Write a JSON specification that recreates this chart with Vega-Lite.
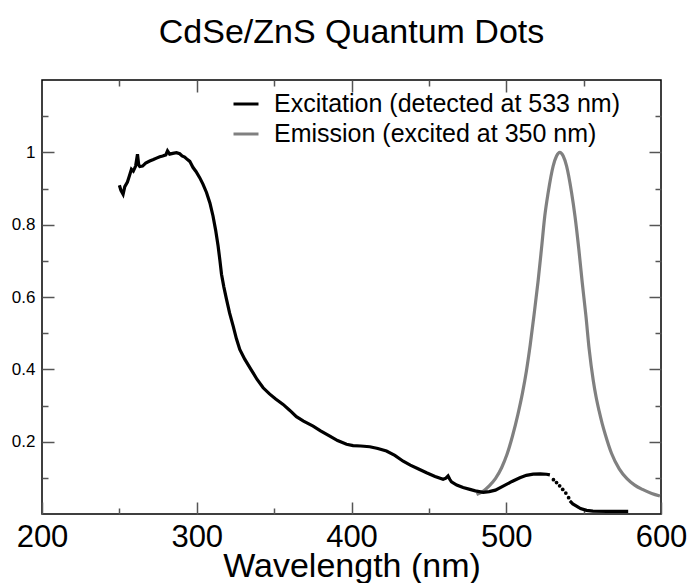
{
  "$schema": "https://vega.github.io/schema/vega-lite/v6.json",
  "autosize": "none",
  "width": 619,
  "height": 434,
  "padding": {"left": 42, "top": 80, "right": 35, "bottom": 69},
  "background": "white",
  "title": {
    "text": "CdSe/ZnS Quantum Dots",
    "font": "Liberation Sans",
    "fontSize": 34,
    "fontWeight": "normal",
    "color": "black",
    "baseline": "alphabetic",
    "offset": 2
  },
  "config": {
    "view": {"stroke": "black", "strokeWidth": 1.5},
    "axis": {
      "grid": false,
      "domain": false,
      "tickColor": "#555555",
      "tickWidth": 1.5,
      "labelFont": "Liberation Sans",
      "titleFont": "Liberation Sans",
      "labelColor": "black",
      "titleColor": "black",
      "titleFontWeight": "normal"
    },
    "legend": {
      "labelFont": "Liberation Sans",
      "labelColor": "black"
    }
  },
  "data": {
    "values": [
      {"series": "Excitation (detected at 533 nm)", "seg": "a", "wl": 250, "v": 0.909},
      {"series": "Excitation (detected at 533 nm)", "seg": "a", "wl": 251, "v": 0.895},
      {"series": "Excitation (detected at 533 nm)", "seg": "a", "wl": 252.4, "v": 0.884},
      {"series": "Excitation (detected at 533 nm)", "seg": "a", "wl": 253.5, "v": 0.905},
      {"series": "Excitation (detected at 533 nm)", "seg": "a", "wl": 255.2, "v": 0.918},
      {"series": "Excitation (detected at 533 nm)", "seg": "a", "wl": 256.5, "v": 0.935},
      {"series": "Excitation (detected at 533 nm)", "seg": "a", "wl": 257.8, "v": 0.953},
      {"series": "Excitation (detected at 533 nm)", "seg": "a", "wl": 259, "v": 0.948},
      {"series": "Excitation (detected at 533 nm)", "seg": "a", "wl": 260.5, "v": 0.962},
      {"series": "Excitation (detected at 533 nm)", "seg": "a", "wl": 261.7, "v": 0.995},
      {"series": "Excitation (detected at 533 nm)", "seg": "a", "wl": 262.5, "v": 0.965},
      {"series": "Excitation (detected at 533 nm)", "seg": "a", "wl": 263.2, "v": 0.961},
      {"series": "Excitation (detected at 533 nm)", "seg": "a", "wl": 265, "v": 0.962},
      {"series": "Excitation (detected at 533 nm)", "seg": "a", "wl": 267, "v": 0.970},
      {"series": "Excitation (detected at 533 nm)", "seg": "a", "wl": 269.6, "v": 0.976},
      {"series": "Excitation (detected at 533 nm)", "seg": "a", "wl": 272, "v": 0.980},
      {"series": "Excitation (detected at 533 nm)", "seg": "a", "wl": 274, "v": 0.984},
      {"series": "Excitation (detected at 533 nm)", "seg": "a", "wl": 276.1, "v": 0.988},
      {"series": "Excitation (detected at 533 nm)", "seg": "a", "wl": 278, "v": 0.990},
      {"series": "Excitation (detected at 533 nm)", "seg": "a", "wl": 280, "v": 0.993},
      {"series": "Excitation (detected at 533 nm)", "seg": "a", "wl": 281.1, "v": 1.004},
      {"series": "Excitation (detected at 533 nm)", "seg": "a", "wl": 282.5, "v": 0.995},
      {"series": "Excitation (detected at 533 nm)", "seg": "a", "wl": 284.5, "v": 0.997},
      {"series": "Excitation (detected at 533 nm)", "seg": "a", "wl": 286.9, "v": 0.999},
      {"series": "Excitation (detected at 533 nm)", "seg": "a", "wl": 289, "v": 0.996},
      {"series": "Excitation (detected at 533 nm)", "seg": "a", "wl": 290.5, "v": 0.990},
      {"series": "Excitation (detected at 533 nm)", "seg": "a", "wl": 292.2, "v": 0.987},
      {"series": "Excitation (detected at 533 nm)", "seg": "a", "wl": 294, "v": 0.980},
      {"series": "Excitation (detected at 533 nm)", "seg": "a", "wl": 295.5, "v": 0.975},
      {"series": "Excitation (detected at 533 nm)", "seg": "a", "wl": 297.6, "v": 0.958},
      {"series": "Excitation (detected at 533 nm)", "seg": "a", "wl": 299.5, "v": 0.947},
      {"series": "Excitation (detected at 533 nm)", "seg": "a", "wl": 301.9, "v": 0.930},
      {"series": "Excitation (detected at 533 nm)", "seg": "a", "wl": 304, "v": 0.912},
      {"series": "Excitation (detected at 533 nm)", "seg": "a", "wl": 306.3, "v": 0.889},
      {"series": "Excitation (detected at 533 nm)", "seg": "a", "wl": 308.5, "v": 0.860},
      {"series": "Excitation (detected at 533 nm)", "seg": "a", "wl": 310.5, "v": 0.824},
      {"series": "Excitation (detected at 533 nm)", "seg": "a", "wl": 312.2, "v": 0.785},
      {"series": "Excitation (detected at 533 nm)", "seg": "a", "wl": 313.8, "v": 0.741},
      {"series": "Excitation (detected at 533 nm)", "seg": "a", "wl": 315, "v": 0.700},
      {"series": "Excitation (detected at 533 nm)", "seg": "a", "wl": 316, "v": 0.663},
      {"series": "Excitation (detected at 533 nm)", "seg": "a", "wl": 317.5, "v": 0.628},
      {"series": "Excitation (detected at 533 nm)", "seg": "a", "wl": 319.2, "v": 0.594},
      {"series": "Excitation (detected at 533 nm)", "seg": "a", "wl": 321.2, "v": 0.556},
      {"series": "Excitation (detected at 533 nm)", "seg": "a", "wl": 323.5, "v": 0.520},
      {"series": "Excitation (detected at 533 nm)", "seg": "a", "wl": 325.6, "v": 0.485},
      {"series": "Excitation (detected at 533 nm)", "seg": "a", "wl": 327.8, "v": 0.455},
      {"series": "Excitation (detected at 533 nm)", "seg": "a", "wl": 331, "v": 0.428},
      {"series": "Excitation (detected at 533 nm)", "seg": "a", "wl": 335, "v": 0.400},
      {"series": "Excitation (detected at 533 nm)", "seg": "a", "wl": 339, "v": 0.372},
      {"series": "Excitation (detected at 533 nm)", "seg": "a", "wl": 342.9, "v": 0.349},
      {"series": "Excitation (detected at 533 nm)", "seg": "a", "wl": 347, "v": 0.332},
      {"series": "Excitation (detected at 533 nm)", "seg": "a", "wl": 351, "v": 0.318},
      {"series": "Excitation (detected at 533 nm)", "seg": "a", "wl": 355.8, "v": 0.303},
      {"series": "Excitation (detected at 533 nm)", "seg": "a", "wl": 360, "v": 0.287},
      {"series": "Excitation (detected at 533 nm)", "seg": "a", "wl": 364.4, "v": 0.269},
      {"series": "Excitation (detected at 533 nm)", "seg": "a", "wl": 369, "v": 0.257},
      {"series": "Excitation (detected at 533 nm)", "seg": "a", "wl": 375.2, "v": 0.243},
      {"series": "Excitation (detected at 533 nm)", "seg": "a", "wl": 380, "v": 0.230},
      {"series": "Excitation (detected at 533 nm)", "seg": "a", "wl": 386, "v": 0.215},
      {"series": "Excitation (detected at 533 nm)", "seg": "a", "wl": 391, "v": 0.203},
      {"series": "Excitation (detected at 533 nm)", "seg": "a", "wl": 396.8, "v": 0.193},
      {"series": "Excitation (detected at 533 nm)", "seg": "a", "wl": 401, "v": 0.189},
      {"series": "Excitation (detected at 533 nm)", "seg": "a", "wl": 406, "v": 0.188},
      {"series": "Excitation (detected at 533 nm)", "seg": "a", "wl": 411.8, "v": 0.186},
      {"series": "Excitation (detected at 533 nm)", "seg": "a", "wl": 417, "v": 0.181},
      {"series": "Excitation (detected at 533 nm)", "seg": "a", "wl": 422.6, "v": 0.174},
      {"series": "Excitation (detected at 533 nm)", "seg": "a", "wl": 428, "v": 0.162},
      {"series": "Excitation (detected at 533 nm)", "seg": "a", "wl": 433.4, "v": 0.146},
      {"series": "Excitation (detected at 533 nm)", "seg": "a", "wl": 438, "v": 0.135},
      {"series": "Excitation (detected at 533 nm)", "seg": "a", "wl": 443, "v": 0.125},
      {"series": "Excitation (detected at 533 nm)", "seg": "a", "wl": 448.5, "v": 0.114},
      {"series": "Excitation (detected at 533 nm)", "seg": "a", "wl": 454, "v": 0.104},
      {"series": "Excitation (detected at 533 nm)", "seg": "a", "wl": 459.2, "v": 0.096},
      {"series": "Excitation (detected at 533 nm)", "seg": "a", "wl": 461, "v": 0.099},
      {"series": "Excitation (detected at 533 nm)", "seg": "a", "wl": 462.4, "v": 0.105},
      {"series": "Excitation (detected at 533 nm)", "seg": "a", "wl": 463.5, "v": 0.096},
      {"series": "Excitation (detected at 533 nm)", "seg": "a", "wl": 464.6, "v": 0.089},
      {"series": "Excitation (detected at 533 nm)", "seg": "a", "wl": 468, "v": 0.080},
      {"series": "Excitation (detected at 533 nm)", "seg": "a", "wl": 472.1, "v": 0.073},
      {"series": "Excitation (detected at 533 nm)", "seg": "a", "wl": 476.5, "v": 0.068},
      {"series": "Excitation (detected at 533 nm)", "seg": "a", "wl": 480, "v": 0.064},
      {"series": "Excitation (detected at 533 nm)", "seg": "a", "wl": 485.1, "v": 0.060},
      {"series": "Excitation (detected at 533 nm)", "seg": "a", "wl": 489, "v": 0.062},
      {"series": "Excitation (detected at 533 nm)", "seg": "a", "wl": 493, "v": 0.066},
      {"series": "Excitation (detected at 533 nm)", "seg": "a", "wl": 498, "v": 0.077},
      {"series": "Excitation (detected at 533 nm)", "seg": "a", "wl": 503.7, "v": 0.090},
      {"series": "Excitation (detected at 533 nm)", "seg": "a", "wl": 508.8, "v": 0.100},
      {"series": "Excitation (detected at 533 nm)", "seg": "a", "wl": 513, "v": 0.107},
      {"series": "Excitation (detected at 533 nm)", "seg": "a", "wl": 517.4, "v": 0.110},
      {"series": "Excitation (detected at 533 nm)", "seg": "a", "wl": 522, "v": 0.111},
      {"series": "Excitation (detected at 533 nm)", "seg": "a", "wl": 526, "v": 0.110},
      {"series": "Excitation (detected at 533 nm)", "seg": "a", "wl": 528.2, "v": 0.108},
      {"series": "Excitation (detected at 533 nm)", "seg": "dots", "wl": 530.5, "v": 0.095},
      {"series": "Excitation (detected at 533 nm)", "seg": "dots", "wl": 532.5, "v": 0.087},
      {"series": "Excitation (detected at 533 nm)", "seg": "dots", "wl": 534.5, "v": 0.078},
      {"series": "Excitation (detected at 533 nm)", "seg": "dots", "wl": 536.5, "v": 0.068},
      {"series": "Excitation (detected at 533 nm)", "seg": "dots", "wl": 538.5, "v": 0.058},
      {"series": "Excitation (detected at 533 nm)", "seg": "dots", "wl": 540.3, "v": 0.045},
      {"series": "Excitation (detected at 533 nm)", "seg": "b", "wl": 541.1, "v": 0.036},
      {"series": "Excitation (detected at 533 nm)", "seg": "b", "wl": 543, "v": 0.028},
      {"series": "Excitation (detected at 533 nm)", "seg": "b", "wl": 545.4, "v": 0.022},
      {"series": "Excitation (detected at 533 nm)", "seg": "b", "wl": 548, "v": 0.015},
      {"series": "Excitation (detected at 533 nm)", "seg": "b", "wl": 551.9, "v": 0.010},
      {"series": "Excitation (detected at 533 nm)", "seg": "b", "wl": 556, "v": 0.008},
      {"series": "Excitation (detected at 533 nm)", "seg": "b", "wl": 565, "v": 0.007},
      {"series": "Excitation (detected at 533 nm)", "seg": "b", "wl": 572, "v": 0.007},
      {"series": "Excitation (detected at 533 nm)", "seg": "b", "wl": 578.8, "v": 0.007},
      {"series": "Emission (excited at 350 nm)", "seg": "e", "wl": 480.8, "v": 0.054},
      {"series": "Emission (excited at 350 nm)", "seg": "e", "wl": 485, "v": 0.063},
      {"series": "Emission (excited at 350 nm)", "seg": "e", "wl": 489, "v": 0.078},
      {"series": "Emission (excited at 350 nm)", "seg": "e", "wl": 493, "v": 0.098},
      {"series": "Emission (excited at 350 nm)", "seg": "e", "wl": 497, "v": 0.128},
      {"series": "Emission (excited at 350 nm)", "seg": "e", "wl": 500.5, "v": 0.165},
      {"series": "Emission (excited at 350 nm)", "seg": "e", "wl": 504, "v": 0.215},
      {"series": "Emission (excited at 350 nm)", "seg": "e", "wl": 507.5, "v": 0.275},
      {"series": "Emission (excited at 350 nm)", "seg": "e", "wl": 510.5, "v": 0.335},
      {"series": "Emission (excited at 350 nm)", "seg": "e", "wl": 513, "v": 0.395},
      {"series": "Emission (excited at 350 nm)", "seg": "e", "wl": 515.5, "v": 0.468},
      {"series": "Emission (excited at 350 nm)", "seg": "e", "wl": 518, "v": 0.552},
      {"series": "Emission (excited at 350 nm)", "seg": "e", "wl": 520.6, "v": 0.645},
      {"series": "Emission (excited at 350 nm)", "seg": "e", "wl": 522.8, "v": 0.735},
      {"series": "Emission (excited at 350 nm)", "seg": "e", "wl": 524.9, "v": 0.824},
      {"series": "Emission (excited at 350 nm)", "seg": "e", "wl": 527.1, "v": 0.889},
      {"series": "Emission (excited at 350 nm)", "seg": "e", "wl": 530.3, "v": 0.962},
      {"series": "Emission (excited at 350 nm)", "seg": "e", "wl": 532.5, "v": 0.990},
      {"series": "Emission (excited at 350 nm)", "seg": "e", "wl": 534.6, "v": 1.000},
      {"series": "Emission (excited at 350 nm)", "seg": "e", "wl": 536.8, "v": 0.990},
      {"series": "Emission (excited at 350 nm)", "seg": "e", "wl": 539, "v": 0.962},
      {"series": "Emission (excited at 350 nm)", "seg": "e", "wl": 542.2, "v": 0.889},
      {"series": "Emission (excited at 350 nm)", "seg": "e", "wl": 544.4, "v": 0.824},
      {"series": "Emission (excited at 350 nm)", "seg": "e", "wl": 546.9, "v": 0.732},
      {"series": "Emission (excited at 350 nm)", "seg": "e", "wl": 549.1, "v": 0.640},
      {"series": "Emission (excited at 350 nm)", "seg": "e", "wl": 551.5, "v": 0.547},
      {"series": "Emission (excited at 350 nm)", "seg": "e", "wl": 553.6, "v": 0.455},
      {"series": "Emission (excited at 350 nm)", "seg": "e", "wl": 556.2, "v": 0.370},
      {"series": "Emission (excited at 350 nm)", "seg": "e", "wl": 558, "v": 0.325},
      {"series": "Emission (excited at 350 nm)", "seg": "e", "wl": 560, "v": 0.285},
      {"series": "Emission (excited at 350 nm)", "seg": "e", "wl": 562, "v": 0.250},
      {"series": "Emission (excited at 350 nm)", "seg": "e", "wl": 564, "v": 0.220},
      {"series": "Emission (excited at 350 nm)", "seg": "e", "wl": 568, "v": 0.168},
      {"series": "Emission (excited at 350 nm)", "seg": "e", "wl": 573, "v": 0.125},
      {"series": "Emission (excited at 350 nm)", "seg": "e", "wl": 578, "v": 0.098},
      {"series": "Emission (excited at 350 nm)", "seg": "e", "wl": 583, "v": 0.080},
      {"series": "Emission (excited at 350 nm)", "seg": "e", "wl": 588, "v": 0.068},
      {"series": "Emission (excited at 350 nm)", "seg": "e", "wl": 594, "v": 0.057},
      {"series": "Emission (excited at 350 nm)", "seg": "e", "wl": 599.3, "v": 0.050}
    ]
  },
  "layer": [
    {
      "transform": [{"filter": "datum.seg === 'e'"}],
      "mark": {"type": "line", "strokeWidth": 3.2, "interpolate": "monotone"},
      "encoding": {
        "x": {
          "field": "wl", "type": "quantitative",
          "scale": {"domain": [200, 600], "nice": false, "zero": false},
          "axis": {
            "orient": "top", "title": null, "labels": false,
            "values": [250, 300, 350, 400, 450, 500, 550],
            "tickSize": {"condition": {"test": "datum.value % 100 === 0", "value": -12}, "value": -6}
          }
        },
        "y": {
          "field": "v", "type": "quantitative",
          "scale": {"domain": [0, 1.2], "nice": false, "zero": false},
          "axis": {
            "orient": "right", "title": null, "labels": false,
            "values": [0.1, 0.2, 0.3, 0.4, 0.5, 0.6, 0.7, 0.8, 0.9, 1, 1.1],
            "tickSize": {"condition": {"test": "round(datum.value * 10) % 2 === 0", "value": -12}, "value": -6}
          }
        },
        "color": {
          "field": "series", "type": "nominal",
          "scale": {
            "domain": ["Excitation (detected at 533 nm)", "Emission (excited at 350 nm)"],
            "range": ["black", "#808080"]
          },
          "legend": {
            "orient": "none", "legendX": 190, "legendY": 10,
            "title": null, "padding": 0,
            "symbolType": "stroke", "symbolSize": 625, "symbolStrokeWidth": 3,
            "labelFontSize": 25, "labelOffset": 14, "labelLimit": 0, "rowPadding": 3
          }
        }
      }
    },
    {
      "transform": [{"filter": "datum.seg === 'a' || datum.seg === 'b'"}],
      "mark": {"type": "line", "strokeWidth": 3.2},
      "encoding": {
        "x": {
          "field": "wl", "type": "quantitative",
          "axis": {
            "orient": "bottom", "title": "Wavelength (nm)",
            "values": [200, 250, 300, 350, 400, 450, 500, 550, 600],
            "format": "d",
            "labelExpr": "datum.value % 100 === 0 ? datum.label : ''",
            "labelFontSize": 31, "labelPadding": 20, "labelFlush": false,
            "titleFontSize": 34, "titlePadding": -3,
            "tickSize": {"condition": {"test": "datum.value % 100 === 0", "value": -12}, "value": -6}
          }
        },
        "y": {
          "field": "v", "type": "quantitative",
          "axis": {
            "orient": "left", "title": null,
            "values": [0.1, 0.2, 0.3, 0.4, 0.5, 0.6, 0.7, 0.8, 0.9, 1, 1.1],
            "format": "~g",
            "labelExpr": "round(datum.value * 10) % 2 === 0 ? datum.label : ''",
            "labelFontSize": 17, "labelPadding": 19,
            "tickSize": {"condition": {"test": "round(datum.value * 10) % 2 === 0", "value": -12}, "value": -6}
          }
        },
        "color": {"field": "series", "type": "nominal"},
        "detail": {"field": "seg", "type": "nominal"}
      }
    },
    {
      "transform": [{"filter": "datum.seg === 'dots'"}],
      "mark": {"type": "point", "filled": true, "color": "black", "opacity": 1, "size": 14},
      "encoding": {
        "x": {"field": "wl", "type": "quantitative", "axis": null},
        "y": {"field": "v", "type": "quantitative", "axis": null}
      }
    }
  ],
  "resolve": {"axis": {"x": "independent", "y": "independent"}}
}
